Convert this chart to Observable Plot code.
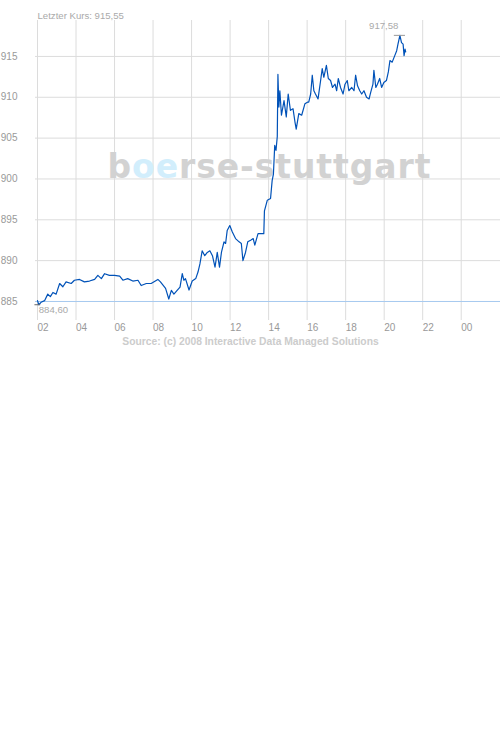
<!DOCTYPE html>
<html><head><meta charset="utf-8">
<script src="https://cdn.jsdelivr.net/npm/d3@7"></script>
<script src="https://cdn.jsdelivr.net/npm/@observablehq/plot@0.6"></script>
<style>body{margin:0;background:#fff;font-family:"Liberation Sans",Arial,sans-serif}</style>
</head><body><div id="chart"></div>
<script>
const times = ["02:00","02:04","02:11","02:22","02:32","02:40","02:48","02:58","03:09","03:19","03:29","03:45","03:55","04:11","04:26","04:42","04:58","05:08","05:19","05:29","05:44","06:00","06:16","06:26","06:41","06:57","07:13","07:23","07:39","07:54","08:15","08:23","08:39","08:49","08:57","09:05","09:15","09:24","09:31","09:36","09:41","09:52","10:02","10:13","10:20","10:26","10:33","10:41","10:49","10:57","11:05","11:13","11:20","11:27","11:33","11:41","11:46","11:51","11:59","12:07","12:17","12:28","12:35","12:40","12:48","12:55","13:04","13:12","13:17","13:27","13:35","13:45","13:47","13:56","14:06","14:11","14:15","14:19","14:23","14:27","14:29","14:32","14:35","14:40","14:48","14:55","15:01","15:08","15:16","15:22","15:26","15:34","15:43","15:53","16:01","16:05","16:11","16:16","16:21","16:26","16:34","16:42","16:47","16:52","17:00","17:06","17:13","17:19","17:27","17:32","17:37","17:44","17:52","17:58","18:05","18:10","18:19","18:26","18:31","18:37","18:44","18:50","18:57","19:05","19:13","19:18","19:25","19:28","19:34","19:39","19:46","19:52","19:59","20:07","20:13","20:18","20:25","20:33","20:39","20:43","20:49","20:54","20:59","21:02","21:05","21:07"];
const values = [885.1,884.6,884.9,885.1,885.9,885.6,886.1,885.9,887.2,886.8,887.4,887.2,887.6,887.7,887.4,887.5,887.7,888.2,887.8,888.4,888.2,888.2,888.1,887.6,887.8,887.5,887.6,886.95,887.2,887.2,887.7,887.4,886.6,885.3,886.35,885.9,886.35,886.75,888.4,887.6,887.8,886.4,887.5,887.8,888.6,889.6,891.2,890.6,891.0,891.2,890.6,889.2,891.0,889.2,891.0,892.3,892.1,893.7,894.3,893.5,892.7,892.3,892.1,890.0,891.0,892.3,892.5,892.7,891.9,893.3,893.3,893.3,896.1,897.4,897.6,899.8,900.6,904.1,903.5,905.2,912.8,908.8,910.8,907.8,909.6,907.6,910.4,908.4,908.6,907.0,906.1,908.0,907.8,909.2,909.4,909.4,910.4,912.7,910.8,910.4,909.8,912.05,913.5,912.45,913.9,912.3,912.05,911.2,911.6,910.8,912.3,911.2,910.4,911.6,912.05,910.8,911.2,910.8,912.7,911.4,910.8,910.4,910.8,910.0,909.8,910.6,911.6,913.3,911.2,911.6,912.3,911.2,911.8,912.05,913.1,914.5,914.3,915.1,915.7,916.5,917.58,916.7,916.5,915.1,915.9,915.55];
const xTicks = [2,4,6,8,10,12,14,16,18,20,22,24];
const yTicks = [885,890,895,900,905,910,915];
const baseline = 885;
const title = "Letzter Kurs: 915,55";
const source = "Source: (c) 2008 Interactive Data Managed Solutions";
const watermark = "boerse-stuttgart";

const toH = s => { const [h, m] = s.split(":").map(Number); return h + m / 60; };
const data = times.map((t, i) => ({h: toH(t), v: values[i]}));
const maxD = d3.greatest(data, d => d.v);
const minD = d3.least(data, d => d.v);
const fmt = v => v.toFixed(2).replace(".", ",");

const chart = Plot.plot({
  width: 500, height: 355,
  marginTop: 20, marginBottom: 35, marginLeft: 35, marginRight: 0,
  style: {fontFamily: "Liberation Sans, Arial, sans-serif", fontSize: "10px", color: "#999", background: "#fff"},
  x: {domain: [1.896, 26.04], label: null},
  y: {domain: [882.67, 919.4], label: null},
  marks: [
    Plot.gridX(xTicks, {stroke: "#dcdcdc", strokeOpacity: 1}),
    Plot.gridY(yTicks.filter(t => t !== baseline), {stroke: "#dcdcdc", strokeOpacity: 1}),
    Plot.ruleY([baseline], {stroke: "#a6c9ef"}),
    Plot.text([watermark], {frameAnchor: "middle", dx: 1, dy: -3, fontSize: 33, fontWeight: "bold", fontFamily: "DejaVu Sans", fill: "#d2d2d2"}),
    Plot.axisX({ticks: xTicks, tickSize: 0, tickPadding: 3, textAnchor: "start", tickFormat: d => String(d % 24).padStart(2, "0"), fill: "#999", label: null}),
    Plot.axisY({ticks: yTicks, tickSize: 0, tickPadding: 18, fill: "#999", label: null}),
    Plot.line(data, {x: "h", y: "v", stroke: "#0052b8", strokeWidth: 1.2}),
    Plot.ruleY([maxD], {y: "v", x1: d => d.h - 0.29, x2: d => d.h + 0.29, stroke: "#999"}),
    Plot.text([maxD], {x: "h", y: "v", text: d => fmt(d.v), textAnchor: "end", dx: -1.5, dy: -9.5, fill: "#aaa", fontSize: 9.6}),
    Plot.ruleY([minD], {y: "v", x1: d => d.h - 0.2, x2: d => d.h + 0.1, stroke: "#666"}),
    Plot.text([minD], {x: "h", y: "v", text: d => fmt(d.v), textAnchor: "start", dx: 0, dy: 5.5, fill: "#aaa", fontSize: 9.6}),
    Plot.text([title], {x: () => 2, frameAnchor: "top", textAnchor: "start", dy: -8, fill: "#aaa", fontSize: 9.6}),
    Plot.text([source], {frameAnchor: "bottom", dx: -17.5, dy: 24, fontWeight: "bold", fill: "#cccccc", fontSize: 10.3})
  ]
});

d3.select(chart).selectAll("text").filter(function () { return this.textContent === watermark; }).each(function () {
  const t = d3.select(this);
  t.text(null);
  t.append("tspan").text("b");
  t.append("tspan").attr("fill", "#d2eefc").text("oe");
  t.append("tspan").text("rse-stuttgart");
  t.attr("textLength", 323).attr("lengthAdjust", "spacing");
});

document.getElementById("chart").appendChild(chart);
</script>
</body></html>
